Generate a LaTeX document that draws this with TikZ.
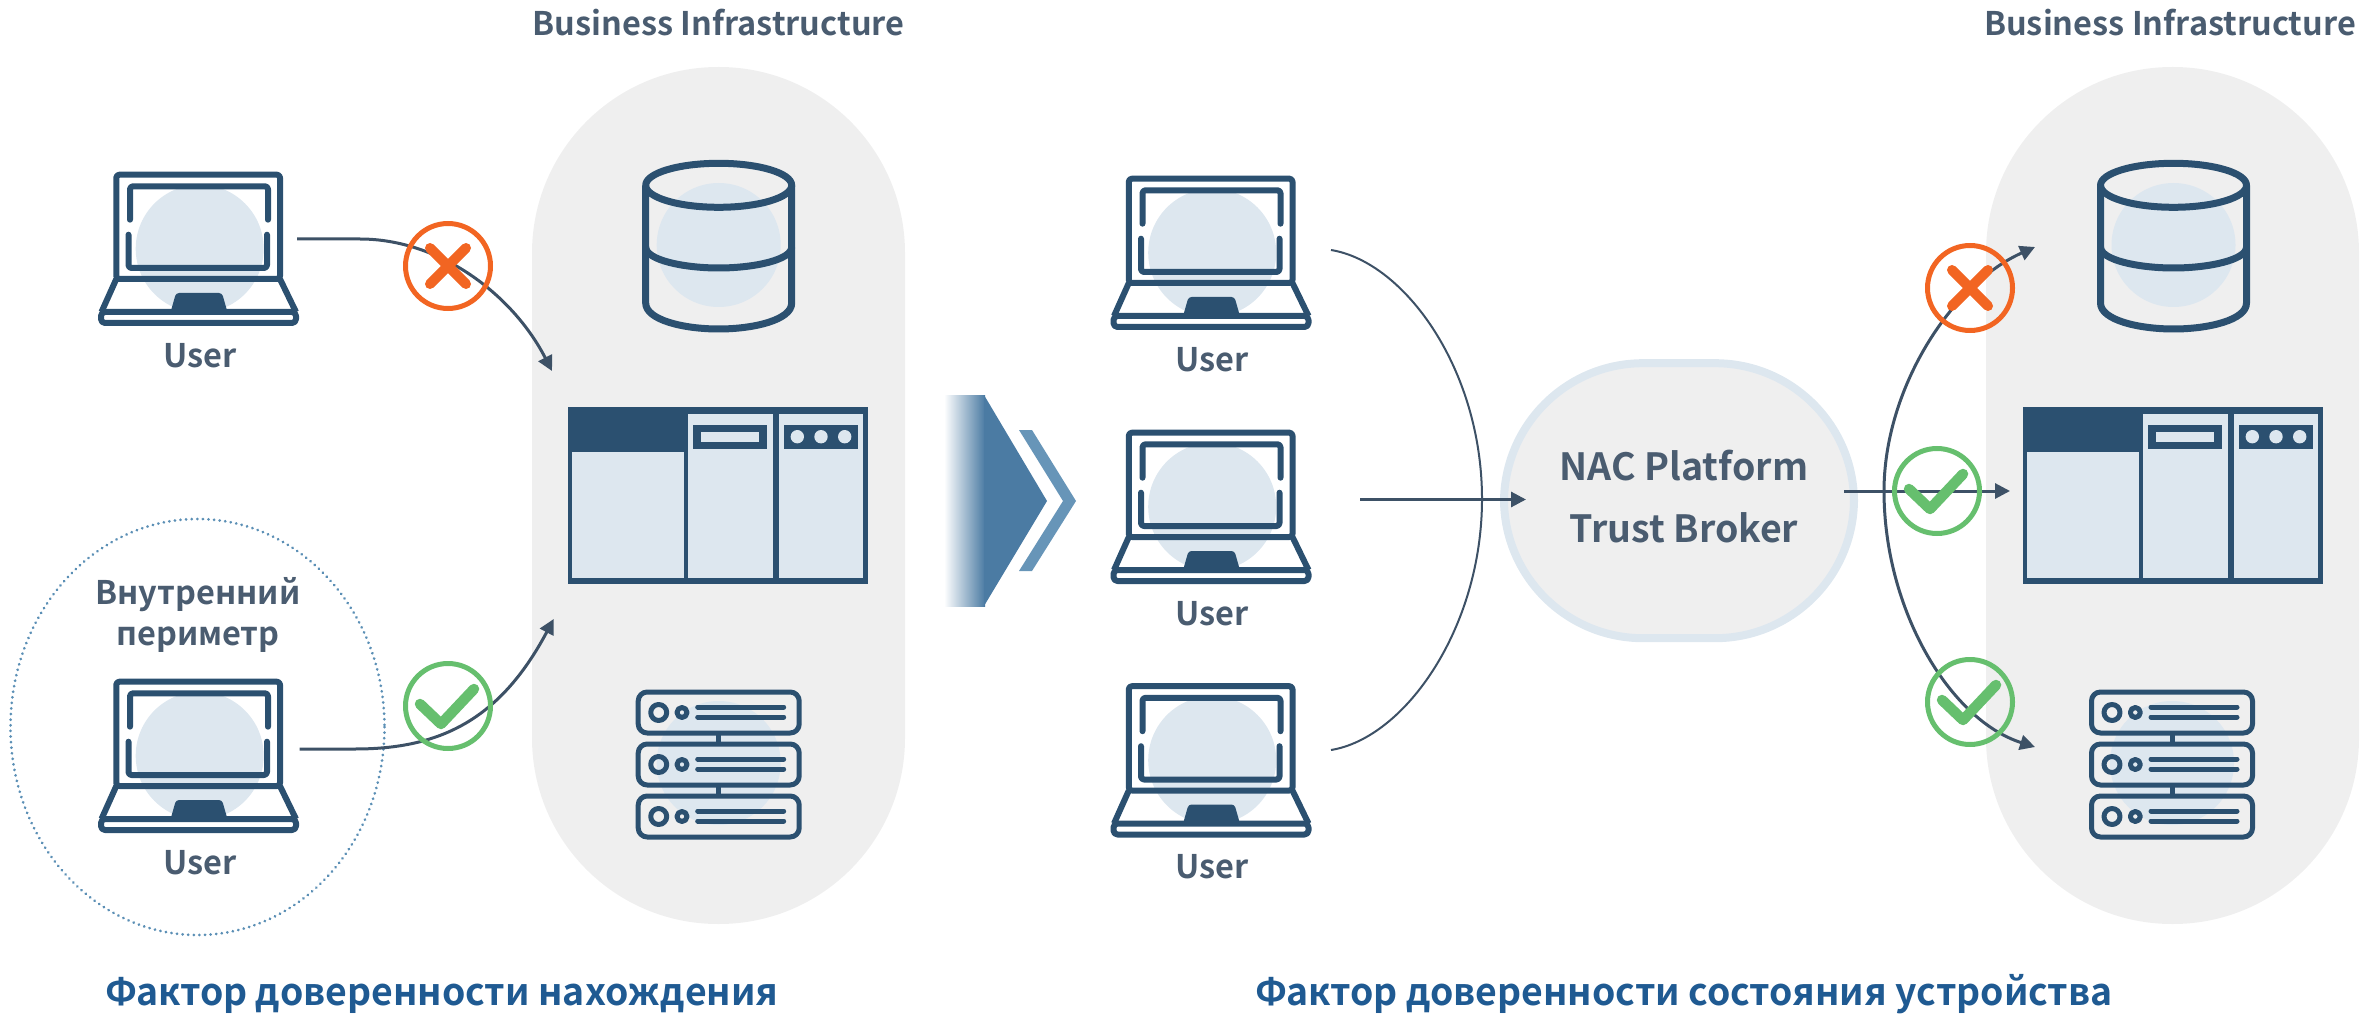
\documentclass[tikz,border=0pt]{standalone}
\usepackage{fontspec}
\setmainfont{Noto Sans CJK SC}[BoldFont={Noto Sans CJK SC Bold}]
\usetikzlibrary{arrows.meta,calc}
\definecolor{ink}{HTML}{2B5070}
\definecolor{pale}{HTML}{DDE7EF}
\definecolor{pill}{HTML}{EFEFEF}
\definecolor{wire}{HTML}{3D5166}
\definecolor{txt}{HTML}{4A5C70}
\definecolor{titleblue}{HTML}{1F5A92}
\definecolor{bad}{HTML}{F26522}
\definecolor{good}{HTML}{66BF6E}
\definecolor{dotc}{HTML}{5B8FB5}
\definecolor{arrowblue}{HTML}{4B7BA3}
\definecolor{chev}{HTML}{6795B8}
\tikzset{
 x=1pt,y=-1pt,
 icon/.style={draw=ink,line width=6pt,line join=round},
 thin wire/.style={draw=wire,line width=2pt},
 wire arrow/.style={draw=wire,line width=3pt,-{Triangle[length=15pt,width=15pt]}},
 lbl/.style={text=txt,font=\bfseries\fontsize{32.5}{41}\selectfont,align=center,inner sep=0pt},
 head/.style={text=txt,font=\bfseries\fontsize{32.5}{40}\selectfont,inner sep=0pt},
 foot/.style={text=titleblue,font=\bfseries\fontsize{37.4}{44}\selectfont,inner sep=0pt},
}
\newcommand{\laptopicon}[3]{%
 \begin{scope}[shift={(#1,#2)}]
 \fill[pale] (101.7,76.7) circle (64);
 \draw[icon,rounded corners=3pt] (18.3,107) -- (18.3,2.7) -- (182,2.7) -- (182,107) -- cycle;
 \draw[icon,line cap=round,rounded corners=3pt] (32,47.7) -- (32,14.3) -- (170,14.3) -- (170,47.7);
 \draw[icon,line cap=round,rounded corners=3pt] (30.5,62.7) -- (30.5,96) -- (169,96) -- (169,62.7);
 \draw[icon] (18.3,107) -- (3.5,140) (182,107) -- (198,140);
 \draw[icon,rounded corners=4pt] (3,140) -- (198,140) -- (198,151) -- (3,151) -- cycle;
 \fill[ink,rounded corners=3pt] (72,142) -- (78,121) -- (124,121) -- (130,142) -- cycle;
 \node[lbl,anchor=base] (#3) at (101.7,195) {User};
 \end{scope}}
\newcommand{\dbicon}[2]{%
 \begin{scope}[shift={(#1,0)}]
 \fill[pale] (0,245) circle (62);
 \draw[icon,line width=7pt] (0,185.3) ellipse (73 and 22);
 \draw[icon,line width=7pt] (-73,185.3) -- (-73,303) .. controls (-73,320) and (-35,329) .. (0,329) .. controls (35,329) and (73,320) .. (73,303) -- (73,185.3);
 \draw[icon,line width=7pt] (-73,247) .. controls (-73,260) and (-35,268) .. (0,268) .. controls (35,268) and (73,260) .. (73,247);
 \node[inner sep=0pt] (#2) at (0,256) {};
 \end{scope}}
\newcommand{\winicon}[2]{%
 \begin{scope}[shift={(#1,0)}]
 \fill[ink] (0,407) rectangle (300,584);
 \fill[pale] (3.7,452) rectangle (115.5,577.5);
 \fill[pale] (119.7,414) rectangle (204.7,577.5);
 \fill[pale] (211,414) rectangle (295.3,577.5);
 \fill[ink] (125.3,424.7) rectangle (199,449);
 \fill[pale] (133.3,432) rectangle (191.3,441.7);
 \fill[ink] (216,424.7) rectangle (289.7,449);
 \foreach \xc in {229.3,253,276.7} \fill[pale] (\xc,436.7) circle (6.7);
 \node[inner sep=0pt] (#2) at (150,495) {};
 \end{scope}}
\newcommand{\srvrow}[1]{%
 \draw[icon,line width=5pt,rounded corners=9pt] (-80.5,#1) rectangle (80.5,#1+41);
 \draw[icon,line width=5pt] (-60,#1+20.5) circle (8);
 \draw[icon,line width=5pt] (-36.7,#1+20.5) circle (5);
 \draw[icon,line width=5pt,line cap=round] (-21,#1+15) -- (65,#1+15) (-21,#1+25) -- (65,#1+25);}
\newcommand{\srvicon}[2]{%
 \begin{scope}[shift={(#1,0)}]
 \fill[pale] (0,763) circle (62);
 \srvrow{692} \srvrow{744} \srvrow{796}
 \draw[icon,line width=5pt] (0,733) -- (0,744) (0,785) -- (0,796);
 \node[inner sep=0pt] (#2) at (0,763) {};
 \end{scope}}
\newcommand{\crossmark}[3]{%
 \node[circle,draw=bad,line width=5pt,minimum size=85pt,inner sep=0pt] (#3) at (#1,#2) {};
 \draw[bad,line width=10pt,line cap=round] (#1-18,#2-18) -- (#1+18,#2+18) (#1-18,#2+18) -- (#1+18,#2-18);}
\newcommand{\checkmark}[3]{%
 \node[circle,draw=good,line width=5pt,minimum size=85pt,inner sep=0pt] (#3) at (#1,#2) {};
 \draw[good,line width=10.5pt,line cap=round,line join=round] (#1-28,#2-2) -- (#1-7,#2+18) -- (#1+26,#2-17);}
\begin{document}
\begin{tikzpicture}
\useasboundingbox (0,0) rectangle (2372,1016);
% pills
\fill[pill,rounded corners=186pt] (532,67) rectangle (905,924);
\fill[pill,rounded corners=186pt] (1986,67) rectangle (2359,924);
\node[head,anchor=base] (t1) at (718.5,36) {Business Infrastructure};
\node[head,anchor=base] (t2) at (2170,36) {Business Infrastructure};
% perimeter
\draw[dotc,line width=3pt,dash pattern=on 0.01pt off 5.6pt,line cap=round] (197.5,727) ellipse (187 and 208);
\node[lbl] (peri) at (198,615) {Внутренний\\периметр};
% laptops
\laptopicon{98}{172}{u1}
\laptopicon{98}{679}{u2}
\laptopicon{1110.5}{176}{u3}
\laptopicon{1110.5}{430}{u4}
\laptopicon{1110.5}{683.5}{u5}
% infrastructure
\dbicon{718.7}{db1}
\winicon{568}{win1}
\srvicon{718.7}{srv1}
\dbicon{2173.5}{db2}
\winicon{2023}{win2}
\srvicon{2172}{srv2}
% named free ends
\coordinate (a1s) at (297,239);
\coordinate (a1e) at (552,371);
\coordinate (a2s) at (299.5,749);
\coordinate (a2e) at (553.7,619);
\coordinate (m1) at (1331,250);
\coordinate (m2) at (1331,750);
\coordinate (m3s) at (1360,499.5);
\coordinate (m3e) at (1526,499.5);
\coordinate (r1e) at (2035,247);
\coordinate (r2s) at (1844,491);
\coordinate (r2e) at (2010,491);
\coordinate (r3e) at (2035,747);
% left connectors
\draw[wire arrow] (a1s) -- (360,239) .. controls (440,239) and (513,295) .. (a1e);
\draw[wire arrow] (a2s) -- (355,749) .. controls (440,749) and (500,720) .. (a2e);
% broker
\node[draw=pale,fill=pill,line width=8pt,rounded corners=139pt,minimum width=350pt,minimum height=275pt,inner sep=0pt] (broker) at (1679,500.7) {};
\node[lbl,font=\bfseries\fontsize{37.5}{62}\selectfont] (brokerlbl) at (1684,497) {NAC Platform\\Trust Broker};
% middle connectors
\draw[thin wire] (m1) .. controls (1405,262) and (1482,370) .. (1482,499) .. controls (1482,628) and (1405,738) .. (m2);
\draw[wire arrow] (m3s) -- (m3e);
% right connectors
\draw[wire arrow] (r2s) -- (r2e);
\draw[wire arrow] (1884,491) .. controls (1884,390) and (1950,285) .. (r1e);
\draw[wire arrow] (1884,491) .. controls (1884,610) and (1950,720) .. (r3e);
% marks
\crossmark{448}{266}{x1}
\checkmark{448}{706}{c1}
\crossmark{1970}{288}{x2}
\checkmark{1937}{491}{c2}
\checkmark{1970}{702}{c3}
% transition arrow
\shade[left color=white,right color=arrowblue,shading angle=90,draw=none] (944,395) rectangle (985,606);
\fill[arrowblue] (984,395) -- (1047,501) -- (984,606) -- cycle;
\fill[chev] (1019,430) -- (1032,430) -- (1076,501) -- (1032,571) -- (1019,571) -- (1063,501) -- cycle;
% titles
\node[foot,anchor=base] (f1) at (442,1005) {Фактор доверенности нахождения};
\node[foot,anchor=base] (f2) at (1684,1005) {Фактор доверенности состояния устройства};
\end{tikzpicture}
\end{document}
